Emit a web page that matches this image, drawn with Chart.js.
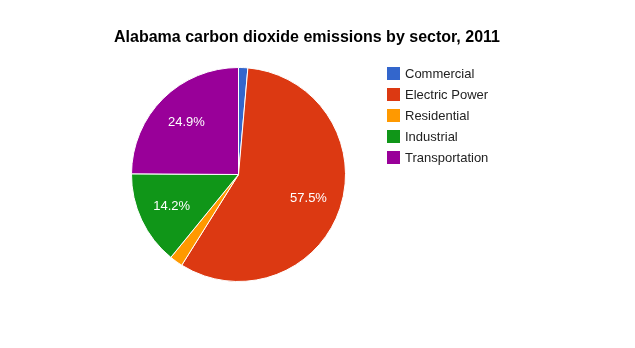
<!DOCTYPE html>
<html>
<head>
<meta charset="utf-8">
<script src="https://cdn.jsdelivr.net/npm/chart.js@4"></script>
<style>
  html, body { margin: 0; padding: 0; background: #fff; }
  #wrap { width: 635px; height: 348px; }
</style>
</head>
<body>
<div id="wrap"><canvas id="grafico" width="635" height="348"></canvas></div>
<script>
// Datos del gráfico
const titulo = 'Alabama carbon dioxide emissions by sector, 2011';
const sectores = ['Commercial', 'Electric Power', 'Residential', 'Industrial', 'Transportation'];
const porcentajes = [1.4, 57.5, 2.0, 14.2, 24.9];
const colores = ['#3366cc', '#dc3912', '#ff9900', '#109618', '#990099'];

const fuente = '"Liberation Sans", Arial, sans-serif';

// Plugin para las etiquetas de porcentaje dentro de las porciones
const etiquetasPlugin = {
    id: 'etiquetas',
    afterDatasetsDraw(chart) {
        const ctx = chart.ctx;
        const meta = chart.getDatasetMeta(0);
        const total = porcentajes.reduce((a, b) => a + b, 0);
        ctx.save();
        ctx.font = '13px ' + fuente;
        ctx.fillStyle = '#ffffff';
        ctx.textAlign = 'center';
        ctx.textBaseline = 'middle';
        meta.data.forEach((arc, i) => {
            const frac = porcentajes[i] / total;
            if (frac < 0.05) return;
            const p = arc.getProps(['x', 'y', 'startAngle', 'endAngle', 'outerRadius'], true);
            const ang = (p.startAngle + p.endAngle) / 2;
            const r = p.outerRadius * 0.69;
            ctx.fillText((frac * 100).toFixed(1) + '%', p.x + r * Math.cos(ang), p.y + r * Math.sin(ang));
        });
        ctx.restore();
    }
};

// Plugin para el título y la leyenda
const leyendaPlugin = {
    id: 'leyenda',
    afterDraw(chart) {
        const ctx = chart.ctx;
        ctx.save();
        ctx.font = 'bold 16px ' + fuente;
        ctx.fillStyle = '#000000';
        ctx.textAlign = 'center';
        ctx.textBaseline = 'middle';
        ctx.fillText(titulo, 307, 38);

        ctx.font = '13px ' + fuente;
        ctx.textAlign = 'left';
        sectores.forEach((s, i) => {
            const y = 73.5 + i * 21;
            ctx.fillStyle = colores[i];
            ctx.fillRect(387, y - 6.5, 13, 13);
            ctx.fillStyle = '#222222';
            ctx.fillText(s, 405, y + 0.5);
        });
        ctx.restore();
    }
};

const ctx = document.getElementById('grafico').getContext('2d');
new Chart(ctx, {
    type: 'pie',
    data: {
        labels: sectores,
        datasets: [{
            data: porcentajes,
            backgroundColor: colores,
            borderColor: '#ffffff',
            borderWidth: 1
        }]
    },
    options: {
        responsive: false,
        animation: false,
        layout: {
            padding: { left: 131, top: 67, right: 289, bottom: 66 }
        },
        plugins: {
            legend: { display: false },
            title: { display: false },
            tooltip: { enabled: false }
        }
    },
    plugins: [etiquetasPlugin, leyendaPlugin]
});
</script>
</body>
</html>
